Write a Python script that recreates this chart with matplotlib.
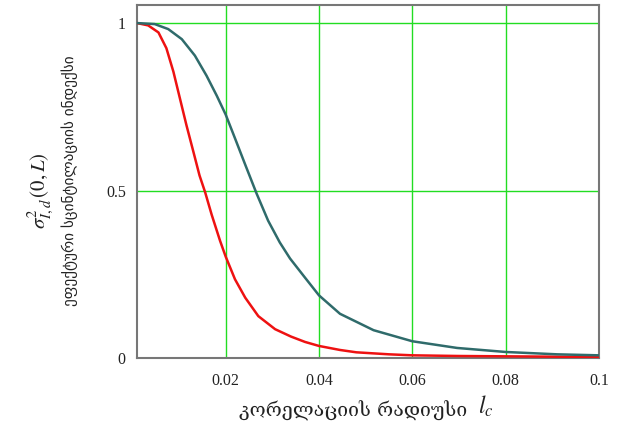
import matplotlib.pyplot as plt

plt.rcParams["mathtext.fontset"] = "stix"

# correlation radius l_c and effective scintillation index curves
x_red = [0.001, 0.0034, 0.0056, 0.0073, 0.0088, 0.0102, 0.0116, 0.0131,
         0.0144, 0.0156, 0.0170, 0.0188, 0.0200, 0.0220, 0.0242, 0.0270,
         0.0306, 0.0340, 0.0370, 0.0400, 0.0445, 0.0480, 0.055, 0.060,
         0.070, 0.080, 0.090, 0.100]
y_red = [1.0, 0.993, 0.972, 0.925, 0.855, 0.775, 0.695, 0.615,
         0.545, 0.495, 0.428, 0.350, 0.303, 0.235, 0.180, 0.125,
         0.086, 0.064, 0.048, 0.036, 0.024, 0.017, 0.011, 0.008,
         0.006, 0.005, 0.004, 0.003]

x_teal = [0.001, 0.0048, 0.0077, 0.0106, 0.0134, 0.0159, 0.0181, 0.0200,
          0.0220, 0.0242, 0.0266, 0.0291, 0.0316, 0.0338, 0.0370, 0.0400,
          0.0445, 0.0517, 0.0600, 0.0696, 0.0800, 0.0910, 0.1000]
y_teal = [1.0, 0.997, 0.982, 0.952, 0.903, 0.843, 0.783, 0.727,
          0.656, 0.577, 0.492, 0.410, 0.345, 0.297, 0.240, 0.187,
          0.132, 0.083, 0.050, 0.030, 0.018, 0.011, 0.008]

x_ticks = [0.02, 0.04, 0.06, 0.08, 0.1]
x_ticklabels = ["0.02", "0.04", "0.06", "0.08", "0.1"]
y_ticks = [0, 0.5, 1]
y_ticklabels = ["0", "0.5", "1"]

fig = plt.figure(figsize=(6.19, 4.33), dpi=100)
ax = fig.add_axes([0.2213, 0.1732, 0.7464, 0.8153])

for xv in x_ticks:
    ax.axvline(xv, color="#22dd22", lw=1.0, zorder=1)
for yv in y_ticks[1:]:
    ax.axhline(yv, color="#22dd22", lw=1.0, zorder=1)

ax.plot(x_red, y_red, color="#ee1111", lw=1.8, zorder=3)
ax.plot(x_teal, y_teal, color="#2f6b6b", lw=1.8, zorder=3)

ax.set_xlim(0.001, 0.1)
ax.set_ylim(0, 1.054)
ax.set_xticks(x_ticks)
ax.set_xticklabels(x_ticklabels, family="Liberation Serif", fontsize=11.5)
ax.set_yticks(y_ticks)
ax.set_yticklabels(y_ticklabels, family="Liberation Serif", fontsize=11.5)
ax.tick_params(axis="x", length=0, pad=11, colors="#222222")
ax.tick_params(axis="y", length=0, pad=8, colors="#222222")

for s in ax.spines.values():
    s.set_color("#777777")
    s.set_linewidth(1.5)

fig.text(0.755, 0.052, "კორელაციის რადიუსი", family="DejaVu Serif",
         fontsize=14, ha="right", va="center", color="#222222")
fig.text(0.772, 0.062, r"$l_c$", fontsize=17, ha="left", va="center",
         color="#222222")
fig.text(0.066, 0.56, r"$\sigma^2_{I,d}\,(0,L)$", fontsize=15, rotation=90,
         ha="center", va="center", color="#222222")
fig.text(0.113, 0.582, "ეფექტური სცინტილაციის ინდექსი", family="DejaVu Sans",
         fontsize=11, rotation=90, ha="center", va="center", color="#222222")

fig.savefig("out.png", dpi=100)
